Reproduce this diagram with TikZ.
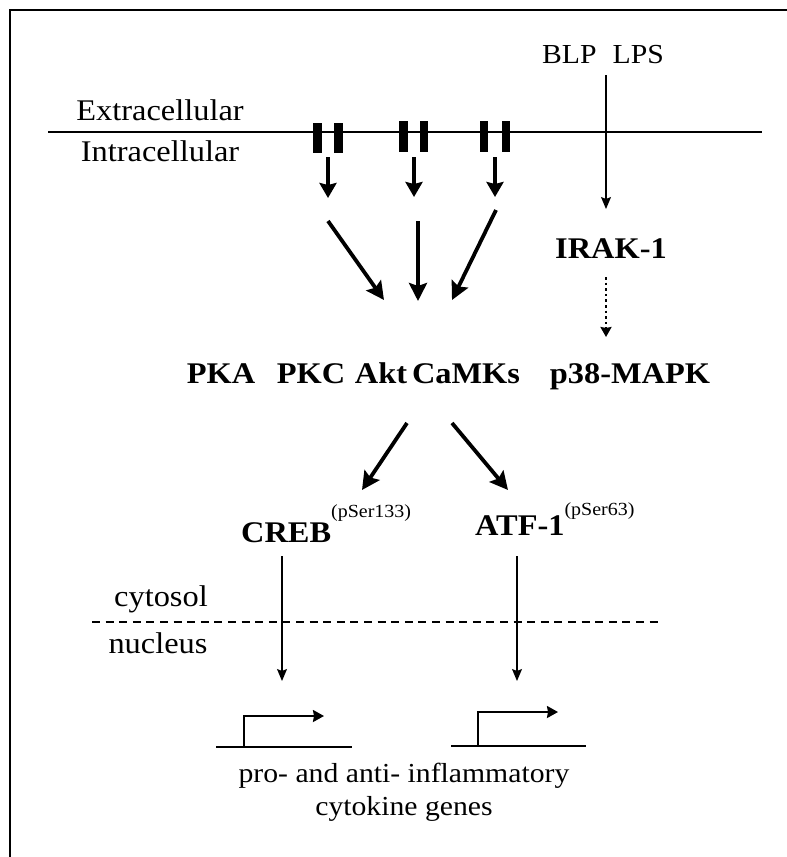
\documentclass[tikz,border=0pt]{standalone}
\usepackage{fontspec}
\setmainfont{Liberation Serif}[FakeStretch=1.08]
\usetikzlibrary{arrows.meta}
\begin{document}
\begin{tikzpicture}[x=1pt,y=-1pt,
  txt/.style={inner sep=0pt, anchor=base, font=\fontsize{30}{36}\selectfont},
  btxt/.style={inner sep=0pt, anchor=base, font=\fontsize{30}{36}\selectfont\bfseries},
  smalltxt/.style={inner sep=0pt, anchor=base, font=\fontsize{27.5}{33}\selectfont},
  thinarrow/.style={line width=1.1pt, -{Stealth[length=12pt,width=10pt,inset=2pt]}},
  recarrow/.style={line width=3.4pt, -{Stealth[length=15pt,width=17pt,inset=2pt]}},
  bigarrow/.style={line width=3.8pt, -{Stealth[length=18pt,width=18pt,inset=3pt]}},
  dotarrow/.style={line width=2.6pt, dash pattern=on 2.6pt off 3pt, -{Stealth[length=10pt,width=11pt,inset=1pt]}},
  genearrow/.style={line width=2pt, -{Stealth[length=11pt,width=12pt,inset=1pt]}},
  bar/.style={fill=black, draw=none},
]
\useasboundingbox (0,0) rectangle (787,857);
\fill[white] (0,0) rectangle (787,857);
% frame (cut off at right and bottom)
\draw[line width=2.2pt] (10,857) -- (10,10) -- (787,10);

% membrane
\coordinate (memL) at (48,132);
\coordinate (memR) at (762,132);
\draw[line width=1.6pt] (memL) -- (memR);
\node[txt] (extra) at (160,120) {Extracellular};
\node[txt] (intra) at (160,161) {Intracellular};

% receptors
\fill[bar] (313,123) rectangle (322,153);
\fill[bar] (334,123) rectangle (343,153);
\fill[bar] (399,121) rectangle (408,152);
\fill[bar] (420,121) rectangle (428,152);
\fill[bar] (480,121) rectangle (488,152);
\fill[bar] (502,121) rectangle (510,152);

\coordinate (r1s) at (328,157); \coordinate (r1e) at (328,198);
\coordinate (r2s) at (414,157); \coordinate (r2e) at (414,197);
\coordinate (r3s) at (495,157); \coordinate (r3e) at (495,197);
\draw[recarrow] (r1s) -- (r1e);
\draw[recarrow] (r2s) -- (r2e);
\draw[recarrow] (r3s) -- (r3e);

\coordinate (b1s) at (328,221); \coordinate (b1e) at (384,300);
\coordinate (b2s) at (418,221); \coordinate (b2e) at (418,301);
\coordinate (b3s) at (496,210); \coordinate (b3e) at (452,300);
\draw[bigarrow] (b1s) -- (b1e);
\draw[bigarrow] (b2s) -- (b2e);
\draw[bigarrow] (b3s) -- (b3e);

% BLP LPS pathway
\node[smalltxt] (blp) at (603,63) {BLP\hspace{16pt}LPS};
\coordinate (blpS) at (606,75);
\coordinate (blpE) at (606,209);
\draw[thinarrow] (blpS) -- (blpE);
\node[btxt] (irak) at (611,258) {IRAK-1};
\coordinate (dotS) at (606,277);
\coordinate (dotE) at (606,337);
\draw[dotarrow] (dotS) -- (dotE);

% kinases
\node[btxt] (pka) at (221,383) {PKA};
\node[btxt] (pkc) at (311,383) {PKC};
\node[btxt] (akt) at (381,383) {Akt};
\node[btxt] (camks) at (466,383) {CaMKs};
\node[btxt] (p38) at (630,383) {p38-MAPK};

\coordinate (k1s) at (407,423); \coordinate (k1e) at (362,490);
\coordinate (k2s) at (452,423); \coordinate (k2e) at (508,490);
\draw[bigarrow] (k1s) -- (k1e);
\draw[bigarrow] (k2s) -- (k2e);

% transcription factors
\node[btxt, anchor=base west] (creb) at (241,542) {CREB\raisebox{25pt}{\fontsize{18.5}{20}\mdseries\selectfont (pSer133)}};
\node[btxt, anchor=base west] (atf) at (475,535) {ATF-1\raisebox{20pt}{\fontsize{18.5}{20}\mdseries\selectfont (pSer63)}};

\coordinate (c1s) at (282,556); \coordinate (c1e) at (282,681);
\coordinate (a1s) at (517,556); \coordinate (a1e) at (517,681);
\draw[thinarrow] (c1s) -- (c1e);
\draw[thinarrow] (a1s) -- (a1e);

% cytosol / nucleus
\node[txt] (cyto) at (161,606) {cytosol};
\node[txt] (nuc) at (158,653) {nucleus};
\coordinate (dashL) at (92,622);
\coordinate (dashR) at (662,622);
\draw[line width=1.3pt, dash pattern=on 8pt off 5.6pt] (dashL) -- (dashR);

% genes
\coordinate (g1L) at (216,747); \coordinate (g1R) at (352,747);
\coordinate (g1b) at (244,747); \coordinate (g1t) at (244,716); \coordinate (g1e) at (324,716);
\draw[line width=2pt] (g1L) -- (g1R);
\draw[genearrow] (g1b) -- (g1t) -- (g1e);
\coordinate (g2L) at (451,746); \coordinate (g2R) at (586,746);
\coordinate (g2b) at (478,746); \coordinate (g2t) at (478,712); \coordinate (g2e) at (558,712);
\draw[line width=2pt] (g2L) -- (g2R);
\draw[genearrow] (g2b) -- (g2t) -- (g2e);

\node[smalltxt] (genes1) at (404,782) {pro- and anti- inflammatory};
\node[smalltxt] (genes2) at (404,815) {cytokine genes};
\end{tikzpicture}
\end{document}
